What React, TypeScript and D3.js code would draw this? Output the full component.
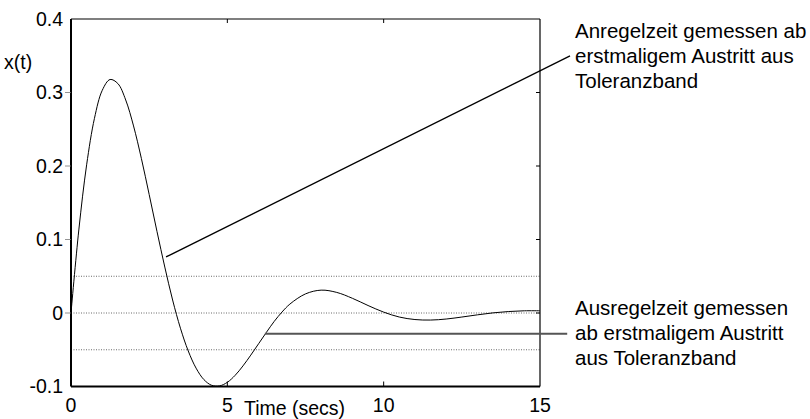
import { useRef, useEffect } from "react";
import * as d3 from "d3";

// time axis samples (s) and response x(t)
const times = [0, 0.25, 0.5, 0.75, 1, 1.25, 1.5, 1.75, 2, 2.25, 2.5, 2.75, 3, 3.25, 3.5, 3.75, 4, 4.25, 4.5, 4.75, 5, 5.25, 5.5, 5.75, 6, 6.25, 6.5, 6.75, 7, 7.5, 8, 8.5, 9, 9.5, 10, 10.5, 11, 11.5, 12, 12.5, 13, 13.5, 14, 14.5, 15];
const response = [0, 0.113, 0.2016, 0.2648, 0.303, 0.3177, 0.3121, 0.2898, 0.2545, 0.2104, 0.1613, 0.111, 0.0625, 0.0177, -0.0207, -0.0517, -0.075, -0.0906, -0.0984, -0.0992, -0.0943, -0.0848, -0.072, -0.0573, -0.0418, -0.0263, -0.0114, 0.0014, 0.0121, 0.026, 0.0311, 0.028, 0.02, 0.0102, 0.0012, -0.0055, -0.0089, -0.0096, -0.0082, -0.0055, -0.0025, 0.0002, 0.002, 0.003, 0.003];

const xTicks = [0, 5, 10, 15];
const yTicks = [-0.1, 0, 0.1, 0.2, 0.3, 0.4];
const yTickLabels = ["-0.1", "0", "0.1", "0.2", "0.3", "0.4"];
const bandLevels = [0.05, 0, -0.05];

// leader lines [t, x] for the two notes
const anregelLeader = [[3.04, 0.0762], [15.96, 0.3497]];
const ausregelLeader = [[6.2, -0.0282], [15.87, -0.0282]];
const anregelText = ["Anregelzeit gemessen ab", "erstmaligem Austritt aus", "Toleranzband"];
const ausregelText = ["Ausregelzeit gemessen", "ab erstmaligem Austritt", "aus Toleranzband"];

const W = 810;
const H = 419;
const FONT = "'Liberation Sans', Arial, sans-serif";

export default function App() {
  const svgRef = useRef(null);

  useEffect(() => {
    const svg = d3.select(svgRef.current);
    svg.selectAll("*").remove();

    const x = d3.scaleLinear().domain([0, 15]).range([71, 540]);
    const y = d3.scaleLinear().domain([-0.1, 0.4]).range([386.5, 19]);
    const [x0, x1] = x.range();
    const [y0, y1] = y.range();

    const g = svg.append("g");

    // tolerance band
    g.selectAll("line.band")
      .data(bandLevels)
      .enter()
      .append("line")
      .attr("class", "band")
      .attr("x1", x0).attr("x2", x1)
      .attr("y1", (d) => y(d)).attr("y2", (d) => y(d))
      .attr("stroke", "#444")
      .attr("stroke-width", 0.8)
      .attr("stroke-dasharray", "1,1.5");

    // response curve
    const pts = times.map((t, i) => [t, response[i]]);
    const line = d3.line()
      .x((d) => x(d[0]))
      .y((d) => y(d[1]))
      .curve(d3.curveCatmullRom);
    g.append("path")
      .attr("d", line(pts))
      .attr("fill", "none")
      .attr("stroke", "#000")
      .attr("stroke-width", 1);

    // frame
    g.append("line").attr("x1", x0).attr("x2", x1).attr("y1", y1).attr("y2", y1).attr("stroke", "#000").attr("stroke-width", 1.2);
    g.append("line").attr("x1", x1).attr("x2", x1).attr("y1", y1).attr("y2", y0).attr("stroke", "#000").attr("stroke-width", 1.2);
    g.append("line").attr("x1", x0).attr("x2", x1).attr("y1", y0).attr("y2", y0).attr("stroke", "#000").attr("stroke-width", 2.2);
    g.append("line").attr("x1", x0).attr("x2", x0).attr("y1", y1).attr("y2", y0).attr("stroke", "#000").attr("stroke-width", 2);

    // ticks
    const innerX = xTicks.slice(1, -1);
    const innerY = yTicks.slice(1, -1);
    g.selectAll("line.xtb").data(innerX).enter().append("line")
      .attr("x1", (d) => x(d)).attr("x2", (d) => x(d))
      .attr("y1", y0).attr("y2", y0 - 5)
      .attr("stroke", "#000").attr("stroke-width", 1);
    g.selectAll("line.xtt").data(innerX).enter().append("line")
      .attr("x1", (d) => x(d)).attr("x2", (d) => x(d))
      .attr("y1", y1).attr("y2", y1 + 4)
      .attr("stroke", "#000").attr("stroke-width", 1);
    g.selectAll("line.ytl").data(innerY).enter().append("line")
      .attr("x1", x0 - 6).attr("x2", x0)
      .attr("y1", (d) => y(d)).attr("y2", (d) => y(d))
      .attr("stroke", "#777").attr("stroke-width", 0.8);
    g.selectAll("line.ytr").data(innerY).enter().append("line")
      .attr("x1", x1 - 4).attr("x2", x1)
      .attr("y1", (d) => y(d)).attr("y2", (d) => y(d))
      .attr("stroke", "#000").attr("stroke-width", 1);

    // tick labels
    g.selectAll("text.xl").data(xTicks).enter().append("text")
      .attr("x", (d) => x(d))
      .attr("y", 411.5)
      .attr("text-anchor", "middle")
      .attr("font-family", FONT)
      .attr("font-size", 19.5)
      .text((d) => d);
    g.selectAll("text.yl").data(yTicks).enter().append("text")
      .attr("x", 63)
      .attr("y", (d) => y(d))
      .attr("dy", "0.35em")
      .attr("text-anchor", "end")
      .attr("font-family", FONT)
      .attr("font-size", 19.5)
      .text((d, i) => yTickLabels[i]);

    // axis titles
    g.append("text").attr("x", 4).attr("y", 69)
      .attr("font-family", FONT).attr("font-size", 19.5)
      .text("x(t)");
    g.append("text").attr("x", 244).attr("y", 415)
      .attr("font-family", FONT).attr("font-size", 19.5)
      .text("Time (secs)");

    // notes
    g.append("line")
      .attr("x1", x(anregelLeader[0][0])).attr("y1", y(anregelLeader[0][1]))
      .attr("x2", x(anregelLeader[1][0])).attr("y2", y(anregelLeader[1][1]))
      .attr("stroke", "#000").attr("stroke-width", 1.4);
    g.append("line")
      .attr("x1", x(ausregelLeader[0][0])).attr("y1", y(ausregelLeader[0][1]))
      .attr("x2", x(ausregelLeader[1][0])).attr("y2", y(ausregelLeader[1][1]))
      .attr("stroke", "#555").attr("stroke-width", 1.8);

    g.selectAll("text.an").data(anregelText).enter().append("text")
      .attr("x", 575)
      .attr("y", (d, i) => 37.5 + i * 25)
      .attr("font-family", FONT)
      .attr("font-size", 20.5)
      .text((d) => d);
    g.selectAll("text.aus").data(ausregelText).enter().append("text")
      .attr("x", 575)
      .attr("y", (d, i) => 315 + i * 25)
      .attr("font-family", FONT)
      .attr("font-size", 20.5)
      .text((d) => d);
  }, []);

  return (
    <svg
      ref={svgRef}
      width={W}
      height={H}
      style={{ position: "absolute", left: 0, top: 0, background: "#fff" }}
    />
  );
}
